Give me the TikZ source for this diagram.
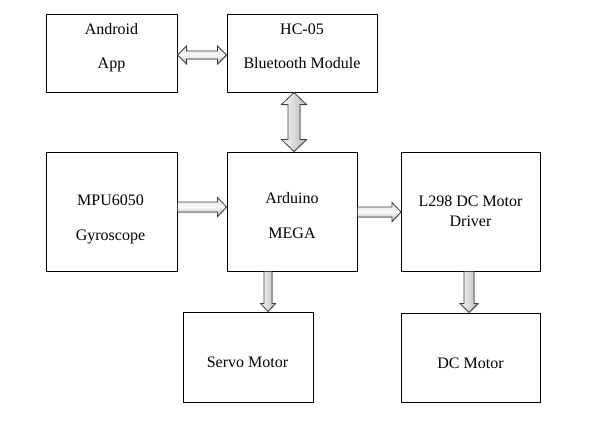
\documentclass[tikz,border=0pt]{standalone}
\usepackage{fontspec}
\setmainfont{Liberation Serif}
\usetikzlibrary{calc,shadows}
\newcommand{\onearr}[7]{%
  \coordinate (#1c) at ($(#4)!#7!(#3)$);
  \path[#2] ($(#3)!#5!90:(#4)$) -- ($(#1c)!#5!-90:(#3)$) -- ($(#1c)!#6!-90:(#3)$) -- (#4)
    -- ($(#1c)!#6!90:(#3)$) -- ($(#1c)!#5!90:(#3)$) -- ($(#3)!#5!-90:(#4)$) -- cycle;}
\newcommand{\twoarr}[7]{%
  \coordinate (#1p) at ($(#3)!#7!(#4)$);
  \coordinate (#1q) at ($(#4)!#7!(#3)$);
  \path[#2] (#3) -- ($(#1p)!#6!90:(#4)$) -- ($(#1p)!#5!90:(#4)$) -- ($(#1q)!#5!-90:(#3)$)
    -- ($(#1q)!#6!-90:(#3)$) -- (#4) -- ($(#1q)!#6!90:(#3)$) -- ($(#1q)!#5!90:(#3)$)
    -- ($(#1p)!#5!-90:(#4)$) -- ($(#1p)!#6!-90:(#4)$) -- cycle;}
\tikzset{
  box/.style={draw=black, line width=1pt, inner sep=0pt, fill=white},
  txt/.style={inner sep=0pt, anchor=base, font=\fontsize{16}{19}\selectfont, text=black},
  arrbase/.style={draw=black!75, line width=0.8pt, line join=miter,
    drop shadow={shadow xshift=0.8pt, shadow yshift=-0.8pt, opacity=0.3, fill=black!60}},
  harrow/.style={arrbase, top color=gray!25, bottom color=gray!60, middle color=gray!5},
  varrow/.style={arrbase, left color=gray!5, right color=gray!55},
}
\begin{document}
\begin{tikzpicture}[x=1pt,y=-1pt]
\useasboundingbox[fill=white] (0,0) rectangle (597,428);
% boxes
\node[box, minimum width=130.5pt, minimum height=77pt] (android) at (111.75,53.5) {};
\node[box, minimum width=150pt, minimum height=77pt] (hc05) at (302,53.5) {};
\node[box, minimum width=130.5pt, minimum height=119pt] (mpu) at (111.75,211.5) {};
\node[box, minimum width=130pt, minimum height=119pt] (arduino) at (292,211.5) {};
\node[box, minimum width=139pt, minimum height=119pt] (l298) at (471,211.5) {};
\node[box, minimum width=130pt, minimum height=90pt] (servo) at (248,357) {};
\node[box, minimum width=139pt, minimum height=89pt] (dc) at (471,357.5) {};
% texts
\node[txt] (t-android1) at (111.5,35) {Android};
\node[txt] (t-android2) at (111.5,69) {App};
\node[txt] (t-hc1) at (302,35) {HC-05};
\node[txt] (t-hc2) at (302,69) {Bluetooth Module};
\node[txt] (t-mpu1) at (110.5,205) {MPU6050};
\node[txt] (t-mpu2) at (110.5,240) {Gyroscope};
\node[txt] (t-ard1) at (292,203) {Arduino};
\node[txt] (t-ard2) at (292,238) {MEGA};
\node[txt] (t-l1) at (470.5,206) {L298 DC Motor};
\node[txt] (t-l2) at (470.5,226) {Driver};
\node[txt] (t-servo) at (247.5,367) {Servo Motor};
\node[txt] (t-dc) at (470.5,368) {DC Motor};
% arrow end points
\coordinate (a1) at (android.east |- 0,55);
\coordinate (b1) at (hc05.west |- 0,55);
\coordinate (a2) at (hc05.south -| 294,0);
\coordinate (b2) at (arduino.north -| 294,0);
\coordinate (a3) at (mpu.east |- 0,207);
\coordinate (b3) at (arduino.west |- 0,207);
\coordinate (a4) at (arduino.east |- 0,212);
\coordinate (b4) at (l298.west |- 0,212);
\coordinate (a5) at (arduino.south -| 268,0);
\coordinate (b5) at (servo.north -| 268,0);
\coordinate (a6) at (l298.south -| 469,0);
\coordinate (b6) at (dc.north -| 469,0);
% arrows
\twoarr{x1}{harrow}{a1}{b1}{4pt}{9pt}{9pt}
\twoarr{x2}{varrow}{a2}{b2}{6pt}{12.5pt}{12pt}
\onearr{x3}{harrow}{a3}{b3}{5pt}{9.5pt}{9pt}
\onearr{x4}{harrow}{a4}{b4}{5pt}{9.5pt}{9pt}
\onearr{x5}{varrow}{a5}{b5}{4pt}{7.5pt}{8pt}
\onearr{x6}{varrow}{a6}{b6}{5pt}{9pt}{9pt}
\end{tikzpicture}
\end{document}
